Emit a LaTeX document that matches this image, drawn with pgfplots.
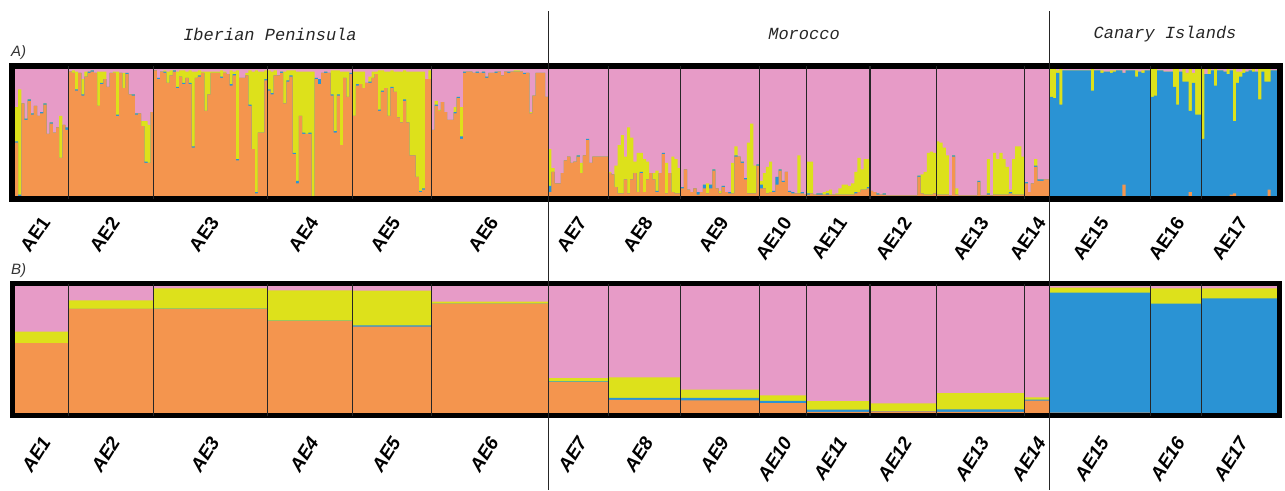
\documentclass[border=0pt]{standalone}
\usepackage{pgfplots}
\pgfplotsset{compat=1.18}
\usepackage{pgfplotstable}
\usepackage{fontspec}
\setmainfont{Liberation Sans}
\newfontfamily\monofont{Liberation Mono}
\definecolor{cOr}{HTML}{F4954E}
\definecolor{cPk}{HTML}{E79BC7}
\definecolor{cYe}{HTML}{DDE11B}
\definecolor{cBl}{HTML}{2A93D4}
\newcommand{\labA}{\fontsize{19}{19}\selectfont\bfseries}
\newcommand{\labB}{\fontsize{19}{19}\selectfont\bfseries\itshape}

% individual membership (orange, blue, yellow); pink = remainder
\pgfplotstableread{
o b y
0.42 0.01 0.27
0.00 0.01 0.83
0.73 0.00 0.00
0.60 0.01 0.00
0.75 0.01 0.00
0.64 0.01 0.00
0.71 0.00 0.00
0.63 0.00 0.00
0.65 0.01 0.00
0.72 0.01 0.00
0.49 0.00 0.00
0.57 0.01 0.00
0.50 0.00 0.00
0.54 0.00 0.00
0.30 0.00 0.33
0.56 0.00 0.00
0.52 0.02 0.00
0.98 0 0
0.97 0 0.02
0.83 0.01 0.14
0.97 0 0
0.79 0.01 0.12
0.94 0 0.04
0.97 0.01 0
0.98 0.01 0
0.97 0 0
0.71 0 0.27
0.88 0.01 0.09
0.92 0 0.06
0.86 0 0
0.97 0 0
0.97 0 0.01
0.63 0.01 0.34
0.97 0 0
0.85 0 0.12
0.96 0.01 0
0.80 0 0
0.79 0.01 0
0.64 0.01 0
0.65 0 0
0.55 0 0.04
0.26 0.01 0.32
0.26 0 0.30
0.66 0 0
0.99 0 0
0.92 0.01 0
0.98 0 0
0.97 0.01 0.01
0.89 0 0.09
0.95 0 0.04
0.98 0.01 0
0.85 0.01 0.12
0.94 0 0.05
0.88 0.01 0.10
0.93 0 0.05
0.88 0.01 0.10
0.38 0.01 0.59
0.93 0 0.05
0.94 0.01 0.04
0.97 0 0.01
0.67 0 0.31
0.80 0 0.18
0.97 0 0.01
0.97 0 0.01
0.97 0 0.01
0.93 0.01 0.05
0.97 0 0.01
0.96 0 0
0.87 0.01 0.11
0.95 0.01 0.02
0.28 0.01 0.70
0.93 0 0
0.93 0 0
0.95 0 0.02
0.71 0.01 0.27
0.37 0 0.61
0.02 0.01 0.96
0.50 0 0.48
0.50 0 0.48
0.91 0.01 0.07
0.83 0.01 0.15
0.80 0.01 0.17
0.95 0 0.04
0.95 0 0
0.97 0.01 0
0.73 0 0.25
0.90 0.01 0.08
0.94 0.01 0.04
0.33 0.01 0.65
0.10 0.02 0.86
0.63 0 0.35
0.49 0.01 0.48
0.49 0 0.49
0.49 0.01 0.48
0.00 0 0.98
0.92 0.01 0
0.88 0.04 0
0.97 0 0
0.97 0.01 0
0.97 0 0
0.79 0.01 0.19
0.50 0.01 0.48
0.79 0.01 0.19
0.40 0 0.58
0.93 0 0.05
0.78 0 0.20
0.96 0.01 0
0.63 0 0.35
0.87 0.01 0.10
0.88 0 0.10
0.85 0 0.13
0.89 0 0
0.89 0.01 0.04
0.93 0 0.05
0.96 0 0.02
0.67 0.01 0.31
0.82 0.01 0.16
0.85 0 0.13
0.63 0 0.35
0.85 0.01 0.13
0.82 0 0.16
0.62 0 0.36
0.58 0 0.40
0.75 0.01 0.23
0.58 0 0.40
0.32 0 0.66
0.32 0 0.66
0.15 0 0.83
0.03 0.01 0.94
0.05 0.01 0.92
0.92 0 0
0.92 0 0.07
0.52 0 0
0.71 0.01 0.03
0.67 0 0.01
0.74 0 0
0.66 0 0
0.60 0 0
0.60 0 0
0.65 0.01 0.04
0.77 0.01 0
0.45 0.02 0.23
0.97 0.01 0
0.98 0 0
0.98 0 0
0.97 0 0
0.97 0.01 0
0.97 0 0
0.97 0.01 0
0.93 0.01 0
0.97 0 0
0.97 0 0
0.97 0.01 0
0.98 0 0
0.95 0 0
0.98 0 0
0.97 0.01 0
0.98 0 0
0.98 0 0.01
0.98 0 0.01
0.98 0 0
0.96 0.01 0
0.97 0 0
0.65 0 0.01
0.79 0 0
0.97 0 0
0.97 0 0
0.97 0 0
0.78 0 0
0.03 0.05 0.29
0.19 0 0.03
0.10 0 0
0.10 0 0
0.18 0 0
0.28 0 0
0.31 0 0
0.26 0 0
0.27 0 0
0.31 0.01 0
0.18 0 0.08
0.32 0 0
0.44 0.01 0
0.26 0 0
0.31 0 0
0.31 0 0
0.31 0 0
0.31 0 0
0.31 0 0
0.18 0 0.01
0.17 0 0
0.07 0 0.17
0.02 0 0.38
0.02 0 0.46
0.13 0 0.18
0.02 0 0.52
0.13 0 0.33
0.18 0 0.09
0.03 0 0.31
0.18 0.01 0.15
0.03 0 0.26
0.13 0 0.14
0.18 0 0
0.13 0 0.05
0.03 0.01 0.16
0.18 0 0
0.33 0.01 0
0.02 0 0.24
0.18 0 0
0.03 0 0.28
0.02 0 0.27
0.02 0 0.20
0.06 0.01 0
0.21 0 0
0.05 0 0
0.03 0 0
0.06 0 0
0.01 0.02 0
0.03 0 0
0.06 0.03 0
0.02 0 0.08
0.06 0.03 0
0.20 0.01 0
0.06 0 0
0.02 0 0.02
0.07 0.01 0
0.03 0 0
0.02 0.01 0
0.02 0 0.24
0.31 0.01 0.07
0.31 0 0
0.26 0.01 0
0.13 0.01 0
0.02 0 0.40
0.02 0 0.55
0.02 0 0.22
0.24 0.01 0
0.06 0.03 0.03
0.06 0 0.12
0.02 0 0.21
0.03 0 0.24
0.03 0.01 0
0.09 0.06 0
0.20 0.01 0
0.11 0.01 0
0.19 0 0
0.03 0.01 0
0.02 0.01 0
0.02 0 0
0.02 0 0.30
0.02 0.01 0
0.01 0 0
0.01 0.01 0.25
0.02 0 0.25
0.01 0 0
0.01 0.01 0
0.01 0.01 0
0.01 0 0.02
0.01 0.01 0.02
0.01 0 0.04
0.01 0 0
0.01 0 0.01
0.01 0 0.05
0.01 0 0.08
0.01 0 0.08
0.01 0 0.07
0.01 0 0.09
0.02 0.01 0.16
0.03 0 0.27
0.05 0 0.16
0.05 0 0.24
0.06 0.01 0.22
0.04 0 0
0.03 0 0
0.01 0.01 0
0.01 0 0
0.01 0.01 0
0.005 0 0
0.005 0 0
0.005 0 0
0.005 0 0
0.005 0 0
0.005 0 0
0.005 0 0
0.005 0 0
0.005 0 0
0.005 0 0
0.15 0.01 0
0.02 0 0.15
0.01 0 0.18
0.01 0 0.33
0.01 0 0.34
0.02 0 0.32
0.01 0 0.42
0.01 0 0.41
0.01 0 0.37
0.01 0 0.31
0.005 0 0
0.31 0.01 0
0.01 0 0.05
0.005 0 0
0.005 0 0
0.005 0 0
0.005 0 0
0.005 0 0
0.005 0 0
0.11 0.01 0
0.005 0 0
0.005 0 0
0.01 0.01 0.27
0.005 0 0
0.01 0 0.33
0.01 0 0.28
0.01 0 0.33
0.01 0 0.28
0.01 0 0.22
0.02 0.01 0.02
0.01 0 0.28
0.01 0 0.38
0.01 0 0.38
0.01 0 0.30
0.10 0.01 0
0.03 0 0
0.10 0 0
0.23 0.01 0.05
0.12 0.01 0
0.12 0.01 0
0.13 0 0
0.13 0 0
0 0.78 0.22
0 0.77 0.23
0 0.97 0.02
0 0.72 0.28
0 0.99 0
0 0.99 0
0 0.99 0
0 0.99 0
0 0.99 0
0 0.99 0
0 0.99 0
0 0.99 0
0 0.99 0
0 0.83 0.17
0 0.99 0
0 0.99 0
0 0.97 0.02
0 0.98 0
0 0.98 0
0 0.97 0.02
0 0.98 0.01
0 0.99 0
0 0.99 0
0.09 0.88 0
0 0.99 0
0 0.99 0
0 0.99 0
0 0.94 0.05
0 0.98 0
0 0.97 0.02
0 0.99 0
0 0.99 0
0 0.78 0.22
0 0.79 0.21
0 0.99 0
0 0.99 0
0 0.98 0
0 0.98 0
0 0.98 0
0 0.86 0.14
0 0.72 0.28
0 0.98 0
0 0.90 0.10
0 0.90 0.07
0.03 0.64 0.33
0 0.89 0.08
0 0.64 0.36
0 0.64 0.36
0 0.45 0.55
0 0.96 0
0 0.96 0.04
0 0.99 0
0 0.87 0.13
0 0.99 0
0 0.99 0
0 0.98 0
0 0.96 0.04
0.01 0.98 0
0.02 0.57 0.41
0 0.89 0.09
0 0.94 0.04
0 0.97 0.03
0 0.98 0
0 0.99 0
0 0.98 0.02
0 0.98 0
0 0.76 0.24
0 0.98 0.02
0 0.90 0.10
0.05 0.85 0.10
0 0.99 0
0 0.99 0
0 0 0
}\indiv

% population means: start index, cumulative tops (orange, +blue, +yellow)
\pgfplotstableread{
x o ob oby
0 0.550 0.550 0.640
17 0.820 0.820 0.887
44 0.817 0.822 0.982
80 0.723 0.728 0.966
107 0.681 0.690 0.964
132 0.862 0.862 0.878
169 0.243 0.249 0.274
188 0.104 0.119 0.280
211 0.100 0.120 0.185
236 0.078 0.096 0.138
251 0.008 0.026 0.094
271 0.013 0.015 0.076
292 0.008 0.028 0.156
320 0.097 0.105 0.123
328 0.003 0.948 0.987
360 0.000 0.862 0.982
376 0.000 0.903 0.981
400 0.000 0.903 0.981
}\popmeans

\pgfplotsset{
  strstyle/.style={
    scale only axis, axis on top, clip=true,
    ytick=\empty, major tick length=0pt,
    xtick={9.8,31.8,63.3,94.8,120.8,151.8,179.8,200.8,224.8,244.8,262.3,282.8,307.3,325.3,345.3,369.3,389.3},
    xticklabels={AE1,AE2,AE3,AE4,AE5,AE6,AE7,AE8,AE9,AE10,AE11,AE12,AE13,AE14,AE15,AE16,AE17},
    extra x ticks={17,44,80,107,132,169,188,211,236,251,271,292,320,328,360,376},
    extra x tick labels={},
    extra x tick style={grid=major, major grid style={line width=1.1pt, black!85}},
  },
  stepfill/.style={const plot, draw=none, fill=#1},
}

\begin{document}
\begin{tikzpicture}
\useasboundingbox (0,0) rectangle (1285pt,-490pt);

\begin{axis}[strstyle,
  at={(12pt,-199pt)}, anchor=south west,
  width=1268pt, height=133pt,
  xmin=-0.951, xmax=400.951, ymin=-0.0236, ymax=1.0236,
  axis line style={line width=5.7pt, black},
  xticklabel style={font=\labA, rotate=55, anchor=east, inner sep=0pt},
  xticklabel shift=20pt,
]
\addplot[stepfill=cPk] table[x expr=\coordindex, y expr=1] {\indiv} \closedcycle;
\addplot[stepfill=cYe] table[x expr=\coordindex, y expr=\thisrow{o}+\thisrow{b}+\thisrow{y}] {\indiv} \closedcycle;
\addplot[stepfill=cBl] table[x expr=\coordindex, y expr=\thisrow{o}+\thisrow{b}] {\indiv} \closedcycle;
\addplot[stepfill=cOr] table[x expr=\coordindex, y=o] {\indiv} \closedcycle;
\end{axis}

\begin{axis}[strstyle,
  at={(12.5pt,-415.5pt)}, anchor=south west,
  width=1267pt, height=132pt,
  xmin=-0.792, xmax=400.792, ymin=-0.0197, ymax=1.0197,
  axis line style={line width=5pt, black},
  xticklabel style={font=\labB, rotate=58, anchor=east, inner sep=0pt},
  xticklabel shift=23pt,
]
\addplot[stepfill=cPk] table[x=x, y expr=1] {\popmeans} \closedcycle;
\addplot[stepfill=cYe] table[x=x, y=oby] {\popmeans} \closedcycle;
\addplot[stepfill=cBl] table[x=x, y=ob] {\popmeans} \closedcycle;
\addplot[stepfill=cOr] table[x=x, y=o] {\popmeans} \closedcycle;
\end{axis}

\draw[line width=1.2pt, black!85] (548.2pt,-11pt) -- (548.2pt,-490pt);
\draw[line width=1.2pt, black!85] (1049.8pt,-11pt) -- (1049.8pt,-490pt);

\begin{scope}[every node/.style={font=\monofont\itshape\fontsize{17}{17}\selectfont, text=black!85}]
\node at (270pt,-34pt) {Iberian Peninsula};
\node at (804pt,-34pt) {Morocco};
\node at (1165pt,-34pt) {Canary Islands};
\end{scope}
\node[font=\itshape\fontsize{15}{15}\selectfont, text=black!80, anchor=west, inner sep=0pt] at (11pt,-53pt) {A)};
\node[font=\itshape\fontsize{15}{15}\selectfont, text=black!80, anchor=west, inner sep=0pt] at (11pt,-271pt) {B)};
\end{tikzpicture}
\end{document}
